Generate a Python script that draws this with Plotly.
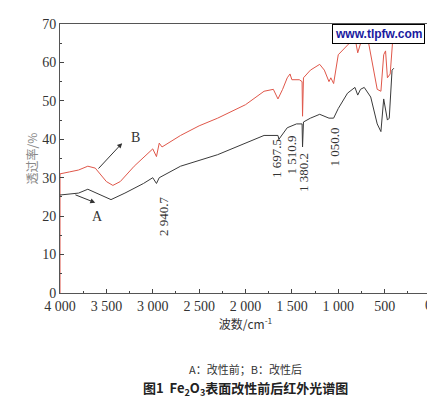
import plotly.graph_objects as go

# curve B (after modification), red
wn_b = [4000, 4000, 3900, 3800, 3700, 3620, 3500, 3430, 3350, 3200, 3000, 2960, 2930, 2900, 2700, 2500,
        2300, 2000, 1800, 1700, 1650, 1600, 1550, 1520, 1500, 1420, 1390, 1385, 1375, 1300, 1200, 1150,
        1100, 1080, 1050, 1000, 900, 820, 790, 770, 740, 680, 620, 580, 540, 510, 490, 470, 440, 410, 400]
tr_b = [0, 31, 31.5, 32, 33, 32.5, 29, 28, 29, 33, 37.5, 35.5, 39, 38, 41, 43.5,
        45.5, 49, 52.5, 53, 50.5, 53, 56, 57, 55.5, 55.5, 55, 46, 56, 58, 59.5, 58,
        55, 56, 54.5, 62, 64.5, 66.5, 62.5, 64, 66.5, 66, 58, 53, 52.5, 62, 63, 56, 57, 66, 70]

# curve A (before modification), dark
wn_a = [4000, 3900, 3800, 3700, 3600, 3450, 3300, 3100, 3000, 2960, 2930, 2700, 2300, 2000, 1800,
        1650, 1640, 1550, 1450, 1390, 1385, 1375, 1300, 1200, 1100, 1050, 1000, 900, 820, 790, 760,
        720, 650, 580, 540, 510, 490, 470, 450, 420, 400]
tr_a = [25.5, 25.8, 26, 27, 26, 24.3, 26, 28.5, 30, 28.5, 30, 33, 36, 39, 41,
        41, 40, 43, 44, 44, 38, 44.5, 45.5, 46.5, 45.5, 45.5, 48, 52, 53.5, 51.5, 53,
        53.5, 51, 44, 42, 50.5, 48, 45, 45.5, 58, 58.5]

peak_labels = ["2 940.7", "1 697.5", "1 510.9", "1 380.2", "1 050.0"]
peak_x = [2890, 1665, 1500, 1370, 1040]
peak_y = [20, 35, 36, 31.5, 38]

serif = "Liberation Serif"
fig = go.Figure()
fig.add_trace(go.Scatter(x=wn_b, y=tr_b, mode="lines", line=dict(color="#e0574a", width=1)))
fig.add_trace(go.Scatter(x=wn_a, y=tr_a, mode="lines", line=dict(color="#3a3a3a", width=1)))

for t, x, y in zip(peak_labels, peak_x, peak_y):
    fig.add_annotation(x=x, y=y, text=t, showarrow=False, textangle=-90,
                       font=dict(family=serif, size=13, color="#333"))

fig.add_annotation(x=3330, y=39, ax=3600, ay=32, axref="x", ayref="y", text="",
                   showarrow=True, arrowhead=2, arrowsize=1, arrowwidth=1, arrowcolor="#333")
fig.add_annotation(x=3190, y=40.5, text="B", showarrow=False, font=dict(family=serif, size=14, color="#333"))
fig.add_annotation(x=3620, y=23.5, ax=3850, ay=25.7, axref="x", ayref="y", text="",
                   showarrow=True, arrowhead=2, arrowsize=1, arrowwidth=1, arrowcolor="#333")
fig.add_annotation(x=3600, y=20, text="A", showarrow=False, font=dict(family=serif, size=14, color="#333"))

# right-edge tick label
fig.add_annotation(xref="paper", yref="paper", x=1.0, y=0, text="0", showarrow=False,
                   yanchor="top", xanchor="right", xshift=3, yshift=-3,
                   font=dict(family=serif, size=14, color="#333"))

fig.add_annotation(xref="paper", yref="paper", x=0.985, y=1.0, text="<b>www.tlpfw.com</b>",
                   showarrow=False, xanchor="right", yanchor="top", bgcolor="white",
                   bordercolor="black", borderwidth=1, borderpad=2,
                   font=dict(family="Liberation Sans", size=12, color="#1a1aa0"))

fig.add_annotation(xref="paper", yref="paper", x=0.5, y=-0.32, text="A：改性前；B：改性后",
                   showarrow=False, font=dict(family="Noto Sans CJK SC", size=11, color="#333"))
fig.add_annotation(xref="paper", yref="paper", x=0.5, y=-0.40,
                   text="<b>图1  Fe<sub>2</sub>O<sub>3</sub>表面改性前后红外光谱图</b>",
                   showarrow=False, font=dict(family="Noto Sans CJK SC", size=13, color="#222"))

fig.update_layout(
    width=435, height=412, showlegend=False,
    margin=dict(l=52, r=12, t=9, b=127),
    plot_bgcolor="white", paper_bgcolor="white",
    font=dict(family=serif, size=14, color="#333"),
    xaxis=dict(range=[4000, 0], tickvals=[4000, 3500, 3000, 2500, 2000, 1500, 1000, 500],
               ticktext=["4 000", "3 500", "3 000", "2 500", "2 000", "1 500", "1 000", "500"],
               ticks="inside", ticklen=4, minor=dict(ticks="inside", ticklen=2, dtick=250),
               showgrid=False, showline=True, linecolor="#555", mirror=True, zeroline=False,
               title=dict(text="波数/cm<sup>-1</sup>", font=dict(family="Noto Sans CJK SC", size=12), standoff=4)),
    yaxis=dict(range=[0, 70], dtick=10, ticks="inside", ticklen=4,
               minor=dict(ticks="inside", ticklen=2, dtick=5),
               showgrid=False, showline=True, linecolor="#555", mirror=True, zeroline=False,
               title=dict(text="透过率/%", font=dict(family="Noto Sans CJK SC", size=12, color="#888"), standoff=2)),
)

fig.write_html("out.html")
